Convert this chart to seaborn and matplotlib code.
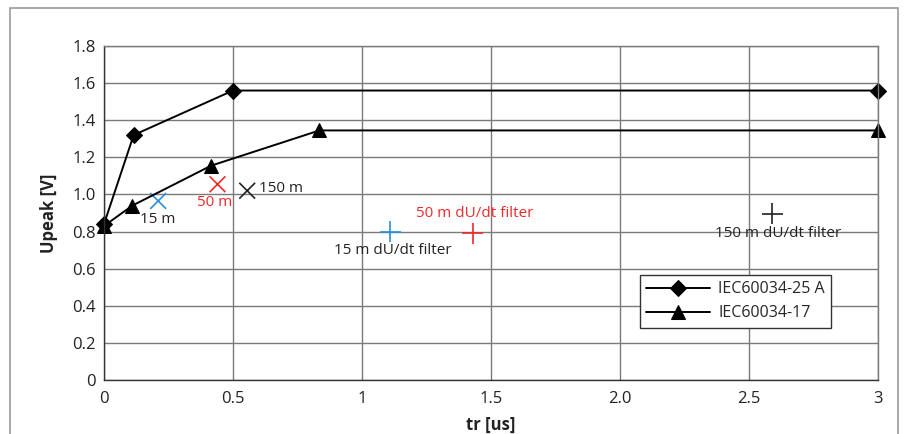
import matplotlib
matplotlib.use("Agg")
import matplotlib.pyplot as plt
import seaborn as sns
import pandas as pd
from matplotlib.patches import Rectangle

# Data
iec25_x = [0.0, 0.115, 0.5, 3.0]
iec25_y = [0.84, 1.32, 1.56, 1.56]
iec17_x = [0.0, 0.11, 0.415, 0.835, 3.0]
iec17_y = [0.83, 0.94, 1.155, 1.345, 1.345]

cable_labels = ["15 m", "50 m", "150 m"]
cable_x = [0.21, 0.44, 0.555]
cable_y = [0.965, 1.055, 1.02]

filter_labels = ["15 m dU/dt filter", "50 m dU/dt filter", "150 m dU/dt filter"]
filter_x = [1.11, 1.43, 2.59]
filter_y = [0.80, 0.79, 0.895]

point_colors = ["#2b8fd9", "#ee2b2b", "#222222"]

x_ticks = [0, 0.5, 1, 1.5, 2.0, 2.5, 3]
x_tick_labels = ["0", "0.5", "1", "1.5", "2.0", "2.5", "3"]
y_ticks = [0, 0.2, 0.4, 0.6, 0.8, 1.0, 1.2, 1.4, 1.6, 1.8]
y_tick_labels = ["0", "0.2", "0.4", "0.6", "0.8", "1.0", "1.2", "1.4", "1.6", "1.8"]

sns.set_theme(style="white")
plt.rcParams['font.family'] = ['Open Sans', 'DejaVu Sans']

fig = plt.figure(figsize=(9.06, 4.34), dpi=100)
fig.patches.append(Rectangle((10/906, -0.1), 888/906, 1 - 8/434 + 0.1,
                             transform=fig.transFigure, fill=False,
                             edgecolor="#9a9a9a", linewidth=1.2))
ax = fig.add_axes([104/906, 1 - 380/434, 774/906, 334/434])

grid_col = "#7a7a7a"
ax.set_xlim(0, 3)
ax.set_ylim(0, 1.8)
ax.set_xticks(x_ticks)
ax.set_xticklabels(x_tick_labels)
ax.set_yticks(y_ticks)
ax.set_yticklabels(y_tick_labels)
ax.grid(True, color=grid_col, linewidth=1.0)
ax.set_axisbelow(True)
for s in ax.spines.values():
    s.set_color(grid_col)
    s.set_linewidth(1.0)
ax.spines['left'].set_color("#333333")
ax.spines['bottom'].set_color("#333333")
ax.tick_params(axis='both', length=0, labelsize=12, colors="#222222")
ax.tick_params(axis='x', pad=8)
ax.tick_params(axis='y', pad=6)

df25 = pd.DataFrame({"x": iec25_x, "y": iec25_y})
df17 = pd.DataFrame({"x": iec17_x, "y": iec17_y})
sns.lineplot(data=df25, x="x", y="y", ax=ax, color="black", marker="D",
             markersize=8.5, linewidth=1.4, label="IEC60034-25 A", clip_on=False,
             sort=False, markeredgecolor="black")
sns.lineplot(data=df17, x="x", y="y", ax=ax, color="black", marker="^",
             markersize=10, linewidth=1.4, label="IEC60034-17", clip_on=False,
             sort=False, markeredgecolor="black")

dfc = pd.DataFrame({"x": cable_x, "y": cable_y, "lab": cable_labels})
dff = pd.DataFrame({"x": filter_x, "y": filter_y, "lab": filter_labels})
sns.scatterplot(data=dfc, x="x", y="y", hue="lab", palette=point_colors,
                marker="x", s=130, linewidth=1.2, ax=ax, legend=False)
sns.scatterplot(data=dff, x="x", y="y", hue="lab", palette=point_colors,
                marker="+", s=230, linewidth=1.2, ax=ax, legend=False)

# annotations
fs = 11
ax.annotate(cable_labels[0], (cable_x[0], cable_y[0]), xytext=(0, -19),
            textcoords="offset pixels", ha="center", va="center", fontsize=fs, color="#222222")
ax.annotate(cable_labels[1], (cable_x[1], cable_y[1]), xytext=(-3, -18),
            textcoords="offset pixels", ha="center", va="center", fontsize=fs, color=point_colors[1])
ax.annotate(cable_labels[2], (cable_x[2], cable_y[2]), xytext=(12, 2),
            textcoords="offset pixels", ha="left", va="center", fontsize=fs, color="#222222")
ax.annotate(filter_labels[0], (filter_x[0], filter_y[0]), xytext=(2, -19),
            textcoords="offset pixels", ha="center", va="center", fontsize=fs, color="#222222")
ax.annotate(filter_labels[1], (filter_x[1], filter_y[1]), xytext=(2, 20),
            textcoords="offset pixels", ha="center", va="center", fontsize=fs, color=point_colors[1])
ax.annotate(filter_labels[2], (filter_x[2], filter_y[2]), xytext=(6, -20),
            textcoords="offset pixels", ha="center", va="center", fontsize=fs, color="#222222")

ax.set_xlabel("tr [us]", fontsize=12, fontweight="bold", color="#222222", labelpad=6)
ax.set_ylabel("Upeak [V]", fontsize=12, fontweight="bold", color="#222222", labelpad=10)

leg = ax.legend(loc="upper left", bbox_to_anchor=(536/774, (380 - 275) / 334),
                frameon=True, fancybox=False, fontsize=11.5, handlelength=4.0,
                borderpad=0.4, labelspacing=0.5, handletextpad=0.5, borderaxespad=0)
leg.get_frame().set_edgecolor("#333333")
leg.get_frame().set_linewidth(1.0)
leg.get_frame().set_facecolor("white")
leg.get_frame().set_alpha(1)

fig.savefig("out.png", dpi=100)
